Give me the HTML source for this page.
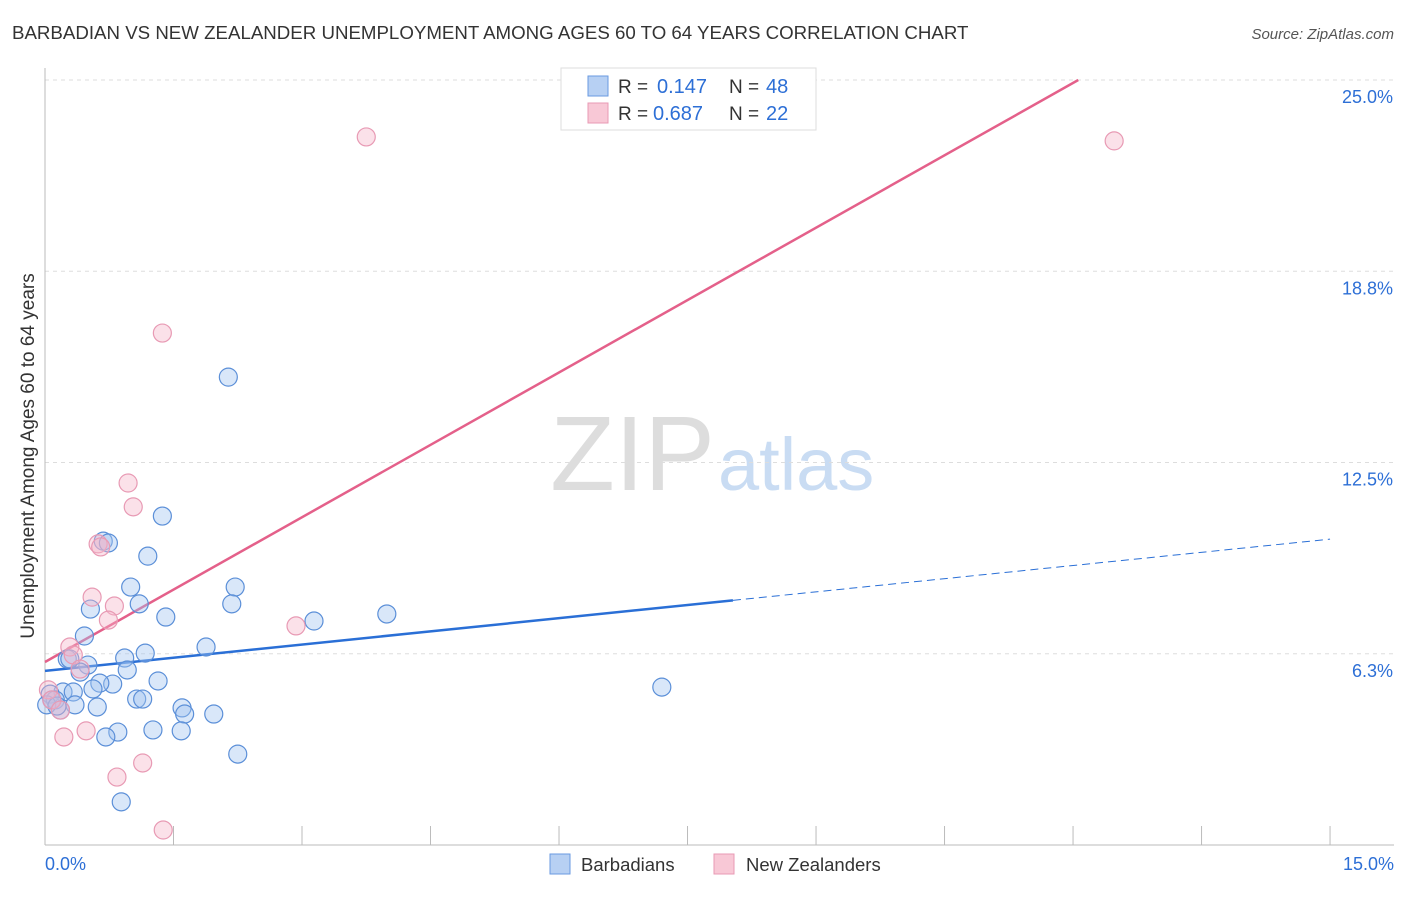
<!DOCTYPE html>
<html><head><meta charset="utf-8"><style>
body{margin:0;background:#fff;font-family:"Liberation Sans",sans-serif}
svg text{font-family:"Liberation Sans",sans-serif}
</style></head><body>
<svg id="chart" width="1406" height="892">
<text x="12" y="39" font-size="18.7" fill="#333">BARBADIAN VS NEW ZEALANDER UNEMPLOYMENT AMONG AGES 60 TO 64 YEARS CORRELATION CHART</text>
<text x="1394" y="39" font-size="15" fill="#555" text-anchor="end" font-style="italic">Source: ZipAtlas.com</text>
<text x="715" y="490" font-size="106" fill="#ddd" text-anchor="end" font-family="Liberation Serif,serif">ZIP</text>
<text x="718" y="490" font-size="74" fill="#c9dcf3">atlas</text>
<text transform="translate(34,456) rotate(-90)" font-size="19" fill="#333" text-anchor="middle">Unemployment Among Ages 60 to 64 years</text>
<g id="grid"></g><g id="axes"></g><g id="lines"></g><g id="pts"></g>
<g>
<rect x="561" y="68" width="255" height="62" fill="#fff" stroke="#ddd"/>
<rect x="588" y="76" width="20" height="20" fill="#b7d0f3" stroke="#6a9ae0"/>
<text x="618" y="93" font-size="19" fill="#333">R =</text>
<text x="657" y="93" font-size="20" fill="#2d6fd6">0.147</text>
<text x="729" y="93" font-size="19" fill="#333">N =</text>
<text x="766" y="93" font-size="20" fill="#2d6fd6">48</text>
<rect x="588" y="103" width="20" height="20" fill="#f8c8d6" stroke="#e89ab4"/>
<text x="618" y="120" font-size="19" fill="#333">R =</text>
<text x="653" y="120" font-size="20" fill="#2d6fd6">0.687</text>
<text x="729" y="120" font-size="19" fill="#333">N =</text>
<text x="766" y="120" font-size="20" fill="#2d6fd6">22</text>
</g>
<g>
<rect x="550" y="854" width="20" height="20" fill="#b7d0f3" stroke="#6a9ae0"/>
<text x="581" y="871" font-size="18.5" fill="#333">Barbadians</text>
<rect x="714" y="854" width="20" height="20" fill="#f8c8d6" stroke="#e89ab4"/>
<text x="746" y="871" font-size="18.5" fill="#333">New Zealanders</text>
</g>
</svg>
<script>
const xTicks=[0,1.5,3,4.5,6,7.5,9,10.5,12,13.5,15];
const yTicks=[6.25,12.5,18.75,25];
const yTickLabels=["6.3%","12.5%","18.8%","25.0%"];
const xEndLabels=["0.0%","15.0%"];
const blueX=[2.14,1.37,0.68,0.74,1.20,1.00,2.22,1.10,2.18,0.53,1.41,3.99,3.14,0.46,1.88,1.17,0.26,0.93,0.50,0.96,0.41,1.32,0.79,0.64,0.56,0.21,0.33,0.06,0.12,1.07,1.14,7.20,1.60,1.63,0.61,1.97,0.35,0.18,1.26,1.59,0.85,0.71,2.25,0.89,0.02,0.14,0.29,0.08];
const blueY=[15.29,10.75,9.93,9.87,9.44,8.43,8.43,7.88,7.88,7.71,7.45,7.55,7.32,6.83,6.47,6.27,6.08,6.11,5.88,5.72,5.65,5.36,5.26,5.29,5.10,5.00,5.00,4.93,4.74,4.77,4.77,5.16,4.48,4.28,4.51,4.28,4.58,4.41,3.76,3.73,3.69,3.53,2.97,1.41,4.58,4.54,6.08,4.74];
const pinkX=[3.75,12.48,1.37,0.97,1.03,0.62,0.65,0.55,0.81,0.74,2.93,0.29,0.33,0.41,0.04,0.08,0.18,0.48,0.22,1.14,0.84,1.38];
const pinkY=[23.14,23.01,16.73,11.83,11.05,9.84,9.74,8.10,7.81,7.35,7.16,6.47,6.21,5.75,5.07,4.74,4.41,3.73,3.53,2.68,2.22,0.49];
const blueFit=[5.69,0.287];
const pinkFit=[5.98,1.577];
const blueSolidEnd=8.03;
const X=v=>45+v*85.67, Y=v=>845-v*30.6;
const NS="http://www.w3.org/2000/svg";
function mk(parent,tag,attrs){const e=document.createElementNS(NS,tag);for(const k in attrs)e.setAttribute(k,attrs[k]);document.getElementById(parent).appendChild(e);return e;}
yTicks.forEach((t,i)=>{
 const g=mk('grid','line',{x1:45,x2:1394,y1:Y(t),y2:Y(t),stroke:'#ddd','stroke-dasharray':'4,4'});
 
 
 const l=mk('grid','text',{x:1393,y:Y(t)+23,'font-size':18,fill:'#2d6fd6','text-anchor':'end'});
 l.textContent=yTickLabels[i];
 
 
});
const ya=mk('axes','line',{x1:45,x2:45,y1:68,y2:845,stroke:'#bbb'});


const xa=mk('axes','line',{x1:45,x2:1394,y1:845,y2:845,stroke:'#bbb'});


xTicks.forEach(t=>{
 const tk=mk('axes','line',{x1:X(t),x2:X(t),y1:826,y2:845,stroke:'#bbb'});
 
 
});
[[0,'start',45],[15,'end',1394]].forEach((a,i)=>{
 const t=mk('axes','text',{x:a[2],y:870,'font-size':18,fill:'#2d6fd6','text-anchor':a[1]});
 t.textContent=xEndLabels[i];
 
 
});
const pl=mk('lines','line',{x1:X(0),y1:Y(pinkFit[0]),x2:X((25-pinkFit[0])/pinkFit[1]),y2:Y(25),stroke:'#e4608a','stroke-width':2.5});


const bl=mk('lines','line',{x1:X(0),y1:Y(blueFit[0]),x2:X(blueSolidEnd),y2:Y(blueFit[0]+blueFit[1]*blueSolidEnd),stroke:'#2a6fd6','stroke-width':2.5});


const bd=mk('lines','line',{x1:X(blueSolidEnd),y1:Y(blueFit[0]+blueFit[1]*blueSolidEnd),x2:X(15),y2:Y(blueFit[0]+blueFit[1]*15),stroke:'#2a6fd6','stroke-width':1,'stroke-dasharray':'8,5'});


blueX.forEach((x,i)=>{
 const c=mk('pts','circle',{cx:X(x),cy:Y(blueY[i]),r:9,fill:'rgba(160,196,240,0.4)',stroke:'#5b8fd8','stroke-width':1.2});
 
 
});
pinkX.forEach((x,i)=>{
 const c=mk('pts','circle',{cx:X(x),cy:Y(pinkY[i]),r:9,fill:'rgba(245,180,200,0.4)',stroke:'#e89ab4','stroke-width':1.2});
 
 
});
</script>
</body></html>
